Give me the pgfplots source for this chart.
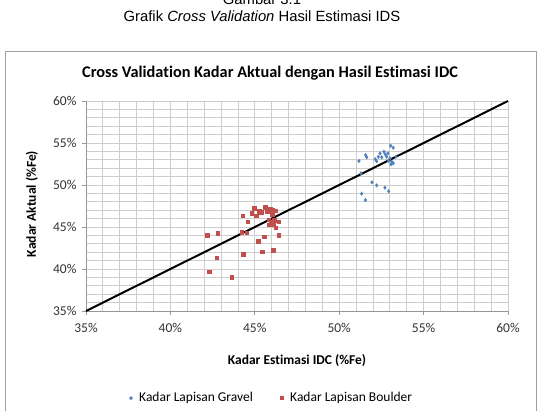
\documentclass[border=0pt]{standalone}
\usepackage{pgfplots}
\pgfplotsset{compat=1.18}
\usepackage{fontspec}
\setmainfont{Carlito}[Ligatures=NoCommon]
\newfontfamily\capfont{Liberation Sans}

\definecolor{gravel}{RGB}{79,129,189}
\definecolor{boulder}{RGB}{192,80,77}
\definecolor{gridc}{RGB}{205,205,205}
\definecolor{axisc}{RGB}{150,150,150}
\definecolor{framec}{RGB}{160,160,160}

% Gravel layer: estimated (IDC) vs actual grade, %Fe
\pgfplotstableread{
x      y
51.17  52.86
51.29  51.39
51.33  48.97
51.55  48.21
51.57  53.57
51.63  53.30
51.94  50.32
52.22  49.96
52.71  49.68
52.93  49.25
52.14  53.06
52.32  53.37
52.42  53.77
52.52  53.30
52.65  53.96
52.73  53.65
52.81  53.37
52.89  53.77
53.01  53.18
53.05  54.68
53.20  54.44
53.11  52.77
53.20  52.58
53.07  52.46
52.91  52.86
53.36  53.37
52.22  52.82
}\gravel

% Boulder layer: estimated (IDC) vs actual grade, %Fe
\pgfplotstableread{
x      y
42.19  44.05
42.80  44.25
42.74  41.35
42.29  39.68
43.63  39.01
44.28  46.35
44.58  45.63
44.22  44.37
44.52  44.33
44.32  41.79
44.95  47.23
44.82  46.63
45.07  46.35
45.27  46.90
45.38  46.79
45.62  47.35
45.74  46.82
45.90  47.11
46.02  46.99
46.24  46.94
46.02  46.55
45.82  45.87
45.94  45.63
46.16  45.83
46.40  45.63
45.86  45.27
46.10  45.36
46.24  44.92
46.40  44.05
45.56  43.85
45.19  43.33
45.43  42.06
46.10  42.23
}\boulder

\begin{document}
\begin{tikzpicture}
\useasboundingbox (0pt,0pt) rectangle (540pt,410pt);
\clip (0pt,0pt) rectangle (540pt,410pt);

% figure caption
\node[anchor=base,font=\capfont\fontsize{14.8}{17}\selectfont,inner sep=0] at (262pt,405.5pt) {Gambar 3.1};
\node[anchor=base,font=\capfont\fontsize{14.8}{17}\selectfont,inner sep=0] at (262pt,388pt) {Grafik \textit{Cross Validation} Hasil Estimasi IDS};

% chart frame
\draw[framec,line width=1pt] (5pt,358pt) rectangle (536pt,-10pt);

% chart title
\node[anchor=base,font=\bfseries\fontsize{16.3}{19}\selectfont,inner sep=0] at (270pt,332pt) {Cross Validation Kadar Aktual dengan Hasil Estimasi IDC};

\begin{axis}[
  at={(86pt,99pt)}, anchor=south west,
  width=422pt, height=210pt, scale only axis,
  xmin=35, xmax=60, ymin=35, ymax=60,
  xtick={35,40,...,60}, ytick={35,40,...,60},
  minor x tick num=4, minor y tick num=4,
  grid=both,
  major grid style={gridc,line width=0.8pt},
  minor grid style={gridc,line width=0.8pt},
  axis lines=left,
  axis line style={axisc,line width=0.8pt,-},
  tick align=outside,
  major tick length=4pt, minor tick length=0pt,
  tick style={axisc,line width=0.8pt},
  /pgf/number format/assume math mode=true,
  xticklabel={\pgfmathprintnumber{\tick}\%},
  yticklabel={\pgfmathprintnumber{\tick}\%},
  ticklabel style={font=\fontsize{13.5}{15}\selectfont,text=black!80},
  xticklabel style={yshift=-5pt},
  yticklabel style={xshift=-2pt},
  clip=false,
]
\addplot[black,line width=2pt] coordinates {(35,35) (60,60)};
\addplot[only marks,mark=diamond*,mark size=1.9pt,color=gravel,mark options={fill=gravel,draw=gravel,line width=0.2pt}] table[x=x,y=y] {\gravel};
\addplot[only marks,mark=square*,mark size=1.8pt,color=boulder,mark options={fill=boulder,draw=boulder,line width=0.2pt}] table[x=x,y=y] {\boulder};
\end{axis}

% axis labels
\node[anchor=center,font=\bfseries\fontsize{13.5}{15}\selectfont,inner sep=0] at (297pt,49pt) {Kadar Estimasi IDC (\%Fe)};
\node[anchor=center,rotate=90,font=\bfseries\fontsize{13.5}{15}\selectfont,inner sep=0] at (32pt,206pt) {Kadar Aktual (\%Fe)};

% legend
\fill[gravel] (129pt,12pt) -- ++(2pt,2pt) -- ++(2pt,-2pt) -- ++(-2pt,-2pt) -- cycle;
\node[anchor=west,font=\fontsize{13.5}{15}\selectfont,inner sep=0] at (139pt,12pt) {Kadar Lapisan Gravel};
\fill[boulder] (280pt,10pt) rectangle ++(4pt,4pt);
\node[anchor=west,font=\fontsize{13.5}{15}\selectfont,inner sep=0] at (290pt,12pt) {Kadar Lapisan Boulder};
\end{tikzpicture}
\end{document}
